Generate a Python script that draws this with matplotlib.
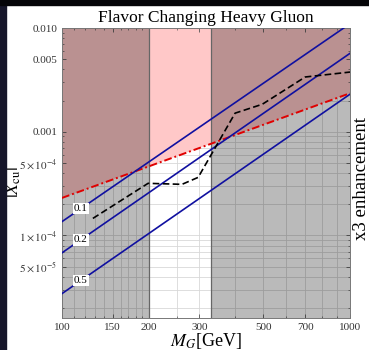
import matplotlib
matplotlib.use("Agg")
import matplotlib.pyplot as plt
import matplotlib.ticker as mticker
import numpy as np

plt.rcParams['font.family'] = ['Liberation Serif', 'DejaVu Serif']
plt.rcParams['mathtext.fontset'] = 'stix'

# data
mass_ends = [100, 1000]
red_bound = [2.3e-4, 2.35e-3]

line_labels = ['0.1', '0.2', '0.5']
line_at_100 = [1.36e-4, 6.8e-5, 2.75e-5]
line_at_1000 = [1.1e-2, 5.7e-3, 2.3e-3]
label_mass = 116

dash_mass = [128, 199, 261, 297, 399, 496, 699, 1000]
dash_vals = [1.46e-4, 3.18e-4, 3.11e-4, 3.63e-4, 1.51e-3, 1.84e-3, 3.37e-3, 3.76e-3]

band_lo = [100, 330]
band_hi = [200, 1000]

x_ticks = [100, 150, 200, 300, 500, 700, 1000]
x_grid = [110, 120, 130, 140, 160, 170, 180, 190, 250, 400, 600, 800, 900]
y_ticks = [5e-5, 1e-4, 5e-4, 1e-3, 5e-3, 1e-2]
y_ticklabels = [r'$5\times10^{-5}$', r'$1\times10^{-4}$', r'$5\times10^{-4}$',
                '0.001', '0.005', '0.010']

fig = plt.figure(figsize=(3.69, 3.5), dpi=100, facecolor='white')
ax = fig.add_axes([62/369, 32/350, 288/369, 290/350])
ax.set_xscale('log')
ax.set_yscale('log')
ax.set_xlim(100, 1000)
ax.set_ylim(1.6e-5, 0.01)

# grid
for g in x_ticks + x_grid:
    ax.axvline(g, color='#d8d8d8', lw=0.6, zorder=0)
ylo, yhi = ax.get_ylim()
for dec in [1e-5, 1e-4, 1e-3]:
    for k in range(1, 10):
        v = k * dec
        if ylo < v < yhi:
            ax.axhline(v, color='#d8d8d8', lw=0.6, zorder=0)

# pink region above red line
ax.fill_between(mass_ends, red_bound, [1, 1], color='#ffc8c8', lw=0, zorder=1)

# grey excluded bands
for lo, hi in zip(band_lo, band_hi):
    ax.axvspan(lo, hi, color='black', alpha=0.27, lw=0, zorder=2)
for edge in [200, 330]:
    ax.axvline(edge, color='#666666', lw=0.9, zorder=2.5)

ax.plot(mass_ends, red_bound, color='#e00000', lw=1.4, ls=(0, (4, 1.5, 1, 1.5)), zorder=4)

for lab, a, b in zip(line_labels, line_at_100, line_at_1000):
    ax.plot(mass_ends, [a, b], color='#1010a0', lw=1.2, zorder=4)
    slope = np.log10(b / a)
    yv = a * (label_mass / 100) ** slope
    ax.text(label_mass, yv, lab, fontsize=8, ha='center', va='center', zorder=6,
            bbox=dict(facecolor='white', edgecolor='none', pad=0.8))

ax.plot(dash_mass, dash_vals, color='black', lw=1.2, ls=(0, (4, 2)), zorder=5)

ax.xaxis.set_major_locator(mticker.FixedLocator(x_ticks))
ax.xaxis.set_major_formatter(mticker.FixedFormatter([str(t) for t in x_ticks]))
ax.xaxis.set_minor_locator(mticker.FixedLocator(x_grid))
ax.xaxis.set_minor_formatter(mticker.NullFormatter())
ax.yaxis.set_major_locator(mticker.FixedLocator(y_ticks))
ax.yaxis.set_major_formatter(mticker.FixedFormatter(y_ticklabels))
ax.yaxis.set_minor_locator(mticker.LogLocator(base=10, subs=np.arange(2, 10)))
ax.yaxis.set_minor_formatter(mticker.NullFormatter())
ax.tick_params(which='both', direction='in', right=True, top=True, colors='#555555',
               labelcolor='#333333', labelsize=8)
ax.tick_params(which='major', length=3, width=0.6)
ax.tick_params(which='minor', length=1.5, width=0.5)
for s in ax.spines.values():
    s.set_color('#777777')
    s.set_linewidth(0.7)

ax.set_title('Flavor Changing Heavy Gluon', fontsize=12.5, pad=4)
ax.set_xlabel(r'$M_G$[GeV]', fontsize=13)
ax.xaxis.set_label_coords(0.5, -0.045, transform=ax.transAxes)
ax.xaxis.label.set_va('top')
ax.set_ylabel(r'$|X_{\mathrm{cu}}|$', fontsize=13)
ax.yaxis.set_label_coords(-39/288, 0.47)
fig.text(361/369, 1 - 178/350, 'x3 enhancement', rotation=90, fontsize=13.5,
         ha='center', va='center')

# dark screenshot edges
fig.patches.append(plt.Rectangle((0, 0), 6/369, 1, transform=fig.transFigure,
                                 color='#16162a', zorder=10))
fig.patches.append(plt.Rectangle((0, 1 - 5/350), 1, 5/350, transform=fig.transFigure,
                                 color='#050508', zorder=10))

fig.savefig('out.png', dpi=100)
